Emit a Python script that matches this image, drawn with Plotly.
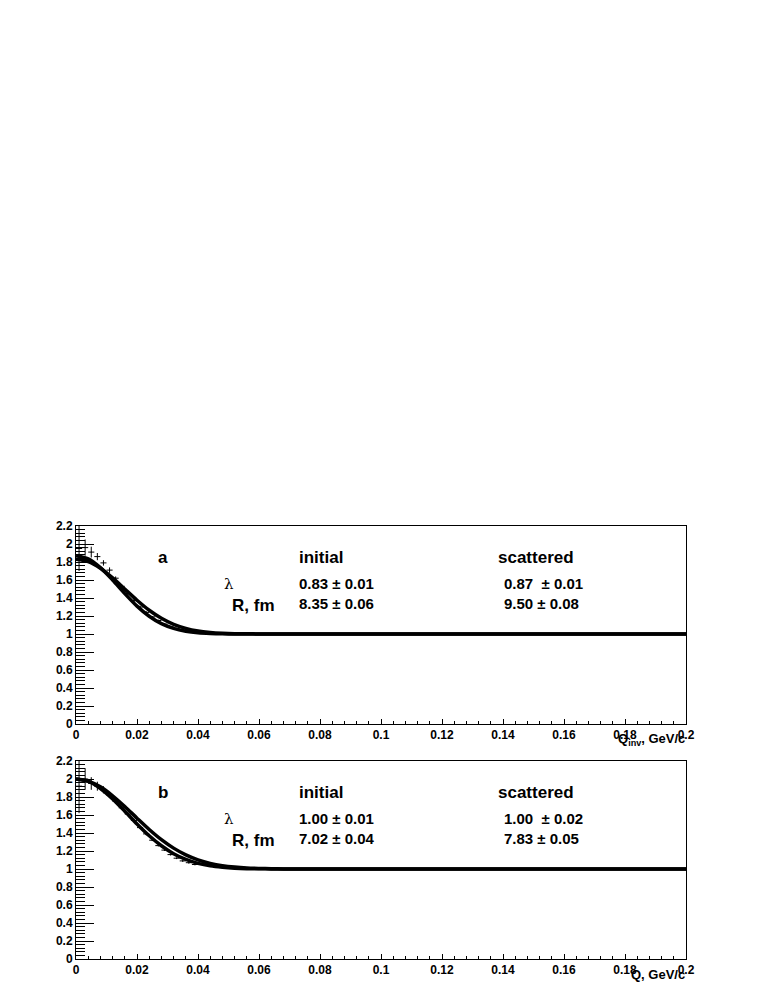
import plotly.graph_objects as go

# q grid for the two fitted curves (GeV/c)
q_fit = [0, 0.004, 0.008, 0.012, 0.016, 0.020, 0.024, 0.028, 0.032, 0.036, 0.040,
         0.044, 0.048, 0.052, 0.056, 0.060, 0.064, 0.068, 0.072, 0.08, 0.2]

# panel a: fitted correlation functions
a_initial = [1.830, 1.804, 1.731, 1.623, 1.499, 1.375, 1.264, 1.175, 1.108, 1.063, 1.034,
             1.018, 1.009, 1.004, 1.002, 1.001, 1.0, 1.0, 1.0, 1.0, 1.0]
a_scattered = [1.870, 1.835, 1.737, 1.600, 1.449, 1.310, 1.197, 1.115, 1.062, 1.031, 1.014,
               1.006, 1.002, 1.001, 1.0, 1.0, 1.0, 1.0, 1.0, 1.0, 1.0]

# panel b
b_initial = [2.000, 1.977, 1.913, 1.814, 1.694, 1.565, 1.439, 1.326, 1.232, 1.157, 1.102,
             1.063, 1.037, 1.021, 1.011, 1.006, 1.003, 1.001, 1.001, 1.0, 1.0]
b_scattered = [2.000, 1.973, 1.895, 1.779, 1.642, 1.500, 1.369, 1.258, 1.170, 1.106, 1.063,
               1.035, 1.019, 1.009, 1.004, 1.002, 1.001, 1.0, 1.0, 1.0, 1.0]

# histogram points (bin centres, values, errors)
q_data = [0.001, 0.003, 0.005, 0.007, 0.009, 0.011, 0.013, 0.015, 0.017, 0.019,
          0.021, 0.023, 0.025, 0.027, 0.029, 0.031, 0.033, 0.035, 0.037, 0.039]
q_half_bin = [0.001] * len(q_data)
a_data = [1.95, 1.96, 1.91, 1.86, 1.79, 1.71, 1.62, 1.53, 1.45, 1.37,
          1.30, 1.24, 1.19, 1.15, 1.11, 1.08, 1.06, 1.04, 1.03, 1.02]
a_err = [0.25, 0.09, 0.06, 0.04, 0.03, 0.03, 0.02, 0.02, 0.02, 0.02,
         0.015, 0.015, 0.01, 0.01, 0.01, 0.01, 0.01, 0.01, 0.01, 0.01]
b_data = [1.92, 2.00, 1.95, 1.92, 1.88, 1.82, 1.75, 1.68, 1.61, 1.54,
          1.46, 1.39, 1.32, 1.26, 1.21, 1.16, 1.12, 1.09, 1.07, 1.05]
b_err = [0.30, 0.12, 0.07, 0.05, 0.04, 0.03, 0.025, 0.02, 0.02, 0.02,
         0.015, 0.015, 0.01, 0.01, 0.01, 0.01, 0.01, 0.01, 0.01, 0.01]

# fit results shown in the panels
labels = ['a', 'b']
axis_titles = ['Q<sub>inv</sub>, GeV/c', 'Q, GeV/c']
lambda_initial = ['0.83 ± 0.01', '1.00 ± 0.01']
r_initial = ['8.35 ± 0.06', '7.02 ± 0.04']
lambda_scattered = ['0.87  ± 0.01', '1.00  ± 0.02']
r_scattered = ['9.50 ± 0.08', '7.83 ± 0.05']

# the page body keeps its 8px margin, so the figure is drawn 8px in from the corner
OFF = 8
W, H = 763 - OFF, 987 - OFF
FONT = 'Liberation Sans, Arial, Helvetica, sans-serif'


def px_x(px):
    return (px - OFF) / W


def px_y(py):
    return 1 - (py - OFF) / H


fig = go.Figure()

panels = [
    (a_initial, a_scattered, a_data, a_err),
    (b_initial, b_scattered, b_data, b_err),
]
for i, (c_init, c_scat, d, e) in enumerate(panels):
    xa = 'x' if i == 0 else 'x2'
    ya = 'y' if i == 0 else 'y2'
    fig.add_trace(go.Scatter(
        x=q_data, y=d, mode='markers', xaxis=xa, yaxis=ya,
        marker=dict(size=1, color='black'),
        error_x=dict(type='data', array=q_half_bin, width=0, thickness=1, color='black'),
        error_y=dict(type='data', array=e, width=0, thickness=1, color='black'),
        showlegend=False,
    ))
    for c in (c_init, c_scat):
        fig.add_trace(go.Scatter(
            x=q_fit, y=c, mode='lines', xaxis=xa, yaxis=ya,
            line=dict(color='black', width=3.5, shape='spline', smoothing=0.8),
            showlegend=False,
        ))

# panel frames in reference pixels: x 76..686, a: y 526..724, b: y 761..959
x_dom = [px_x(76), px_x(686)]
y_doms = [[px_y(724), px_y(526)], [px_y(959), px_y(761)]]

tickfont = dict(family=FONT, size=12, color='black', weight='bold')
common_x = dict(range=[0, 0.2], tickmode='linear', tick0=0, dtick=0.02,
                ticks='inside', ticklen=5, tickwidth=1, tickcolor='black',
                minor=dict(dtick=0.004, ticks='inside', ticklen=3, tickcolor='black'),
                showline=True, mirror=True, linecolor='black', linewidth=1,
                showgrid=False, zeroline=False, tickfont=tickfont,
                tickformat='~g', domain=x_dom)
common_y = dict(range=[0, 2.2], tickmode='linear', tick0=0, dtick=0.2,
                ticks='inside', ticklen=18, tickwidth=1, tickcolor='black',
                minor=dict(dtick=0.04, ticks='inside', ticklen=9, tickcolor='black'),
                showline=True, mirror=True, linecolor='black', linewidth=1,
                showgrid=False, zeroline=False, tickfont=tickfont,
                tickformat='~g')

fig.update_layout(
    width=W, height=H, autosize=False,
    margin=dict(l=0, r=0, t=0, b=0, autoexpand=False),
    paper_bgcolor='white', plot_bgcolor='white',
    xaxis=dict(common_x, anchor='y'),
    yaxis=dict(common_y, domain=y_doms[0], anchor='x'),
    xaxis2=dict(common_x, anchor='y2'),
    yaxis2=dict(common_y, domain=y_doms[1], anchor='x2'),
)


def note(text, px, py, size, anchor='left', bold=True, family=FONT):
    fig.add_annotation(
        text=text, x=px_x(px), y=px_y(py), xref='paper', yref='paper',
        xanchor=anchor, yanchor='middle', showarrow=False,
        font=dict(family=family, size=size, color='black',
                  weight='bold' if bold else 'normal'),
    )


for i in range(2):
    dy = 0 if i == 0 else 235
    note(labels[i], 163, 557 + dy, 17, anchor='center')
    note('initial', 297, 557 + dy, 17)
    note('scattered', 496, 557 + dy, 17)
    note('λ', 229, 584 + dy, 15, anchor='center', bold=False, family='DejaVu Serif')
    note('R, fm', 230, 605 + dy, 17)
    note(lambda_initial[i], 297, 583 + dy, 15)
    note(r_initial[i], 297, 603 + dy, 15)
    note(lambda_scattered[i], 502, 583 + dy, 15)
    note(r_scattered[i], 502, 603 + dy, 15)
    note(axis_titles[i], 687, 739 + dy, 13, anchor='right')

fig.write_html('out.html')
